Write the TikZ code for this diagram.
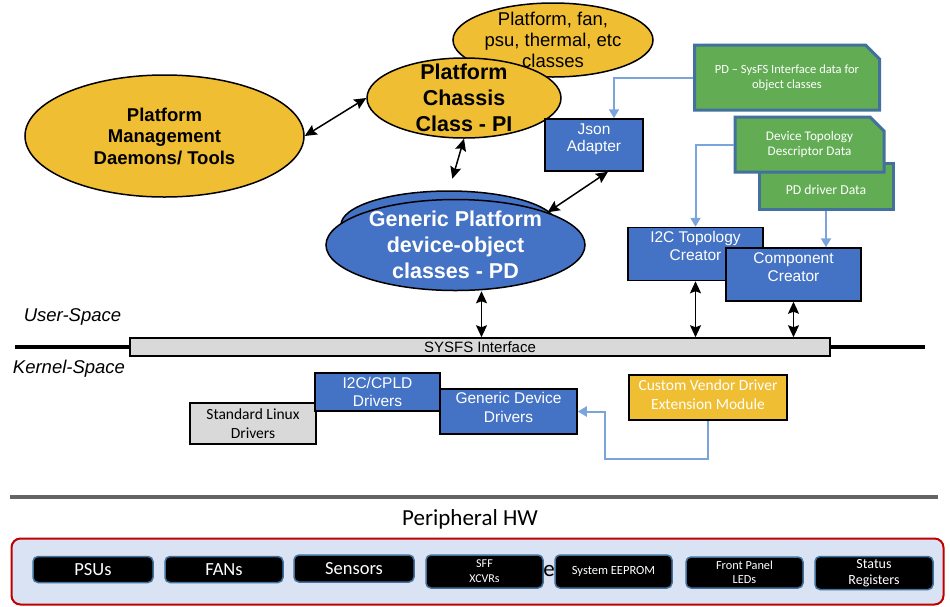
\documentclass[tikz,border=0pt]{standalone}
\usepackage{fontspec}
\setmainfont{Liberation Sans}
\newfontfamily\calibri{Carlito}
\usetikzlibrary{shapes.geometric,shapes.misc,arrows.meta}
\definecolor{pdgold}{RGB}{240,190,50}
\definecolor{pdblue}{RGB}{68,114,196}
\definecolor{docgreen}{RGB}{98,172,84}
\definecolor{docedge}{RGB}{65,113,156}
\definecolor{linkblue}{RGB}{124,164,220}
\definecolor{barfill}{RGB}{217,217,217}
\definecolor{hwfill}{RGB}{218,227,243}
\definecolor{hwedge}{RGB}{192,0,0}
\definecolor{rulegray}{RGB}{100,100,100}
\tikzset{goldelli/.style={ellipse, draw, line width=1.5pt, fill=pdgold, inner sep=0pt},
  blueelli/.style={ellipse, draw, line width=1.5pt, fill=pdblue, inner sep=0pt},
  etext/.style={align=center, font=\bfseries\fontsize{21.5}{26}\selectfont},
  bluebox/.style={draw, line width=1.5pt, fill=pdblue, inner sep=0pt},
  btext/.style={text=white, align=center, font=\fontsize{15.5}{18}\selectfont},
  graybox/.style={draw, line width=1.5pt, fill=barfill, inner sep=0pt, align=center},
  docbox/.style={chamfered rectangle, chamfered rectangle corners=north east, chamfered rectangle xsep=7pt, chamfered rectangle ysep=7pt, draw=docedge, line width=3pt, fill=docgreen, text=white, align=center, inner sep=0pt},
  hwbox/.style={rounded corners=5pt, draw=docedge, line width=1.5pt, fill=black, text=white, align=center, inner sep=0pt, font=\calibri\fontsize{12.5}{15}\selectfont},
  link/.style={draw=linkblue, line width=2pt, -{Triangle[length=9pt,width=10pt]}},
  dbl/.style={line width=1.5pt, {Stealth[length=12pt,width=11pt,inset=2pt]}-{Stealth[length=12pt,width=11pt,inset=2pt]}}}

\begin{document}
\begin{tikzpicture}[x=1pt,y=-1pt]
    \useasboundingbox (0,0) rectangle (950,606);
    \node[goldelli, minimum width=279pt, minimum height=122pt, label={[etext, font=\bfseries\fontsize{18.5}{21.5}\selectfont]center:Platform\\Management\\Daemons/ Tools}] (mgmt) at (164.5,136) {};
    \node[goldelli, minimum width=200pt, minimum height=74pt, label={[align=center, font=\fontsize{18.5}{21}\selectfont]center:Platform, fan,\\psu, thermal, etc\\classes}] (classes) at (553,40) {};
    \node[goldelli, minimum width=194pt, minimum height=80pt, label={[etext]center:Platform\\Chassis\\Class - PI}] (chassis) at (464,98) {};
    \node[bluebox, minimum width=98pt, minimum height=52pt, label={[btext, yshift=6pt, font=\fontsize{15.5}{17}\selectfont]center:Json\\Adapter}] (json) at (594,145) {};
    \node[blueelli, minimum width=216pt, minimum height=68pt] (gpback) at (449,225) {};
    \node[blueelli, minimum width=259pt, minimum height=91pt, label={[etext, text=white]center:Generic Platform\\device-object\\classes - PD}] (gp) at (455.5,245) {};

    \node[docbox, minimum width=185pt, minimum height=65pt, font=\calibri\fontsize{12.5}{15}\selectfont] (sysfsdoc) at (787,77.5) {PD – SysFS Interface data for\\object classes};
    \node[docbox, minimum width=134pt, minimum height=46pt, label={[text=white, yshift=-4pt, font=\calibri\fontsize{13.7}{16}\selectfont]center:PD driver Data}] (drvdoc) at (826,186) {};
    \node[docbox, minimum width=149pt, minimum height=55pt, font=\calibri\fontsize{13.2}{15}\selectfont] (topodoc) at (809.5,144.5) {Device Topology\\Descriptor Data};

    \node[bluebox, minimum width=135pt, minimum height=53pt, label={[btext, yshift=8pt]center:I2C Topology\\Creator}] (i2ctopo) at (695.5,254) {};
    \node[bluebox, minimum width=135pt, minimum height=53pt, label={[btext, yshift=7.5pt]center:Component\\Creator}] (compcr) at (793.5,274.5) {};

    \coordinate (kleft) at (15,347);
    \coordinate (kright) at (925,347);
    \node[graybox, minimum width=700pt, minimum height=18pt, font=\fontsize{15}{17}\selectfont] (sysfs) at (480,347) {SYSFS Interface};
    \draw[line width=4pt] (kleft) -- (sysfs.west) (sysfs.east) -- (kright);
    \node[font=\itshape\fontsize{18.5}{20}\selectfont] (userlbl) at (72.5,317) {User-Space};
    \node[font=\itshape\fontsize{18.5}{20}\selectfont] (kernlbl) at (69,369) {Kernel-Space};

    \node[graybox, minimum width=126pt, minimum height=41pt, font=\calibri\fontsize{15.5}{19}\selectfont] (stdlinux) at (253,423.5) {Standard Linux\\Drivers};
    \node[bluebox, minimum width=125pt, minimum height=38pt, btext, font=\fontsize{15.5}{18.5}\selectfont] (i2ccpld) at (377.5,392) {I2C/CPLD\\Drivers};
    \node[bluebox, minimum width=137pt, minimum height=45pt, label={[btext, yshift=4pt, font=\fontsize{15.5}{18.5}\selectfont]center:Generic Device\\Drivers}] (gendev) at (508.5,411.5) {};
    \node[draw, line width=1.5pt, fill=pdgold, minimum width=158pt, minimum height=45pt, inner sep=0pt, label={[btext, yshift=3pt, font=\calibri\fontsize{15.5}{19}\selectfont]center:Custom Vendor Driver\\Extension Module}] (custom) at (708,397.5) {};

    \draw[rulegray, line width=4pt] (10,497) -- (938,497);
    \node[font=\calibri\fontsize{23}{26}\selectfont] (hwtitle) at (470,519) {Peripheral HW};
    \node[draw=hwedge, line width=2pt, fill=hwfill, rounded corners=9pt, minimum width=932pt, minimum height=66pt] (hwframe) at (477.5,571.5) {};
    \node[font=\calibri\fontsize{23}{26}\selectfont] (hwhidden) at (549,571) {e};
    \node[hwbox, minimum width=120pt, minimum height=26pt, font=\calibri\fontsize{18.5}{20}\selectfont] (psu) at (93,569.5) {PSUs};
    \node[hwbox, minimum width=118pt, minimum height=26pt, font=\calibri\fontsize{18.5}{20}\selectfont] (fan) at (224,569.5) {FANs};
    \node[hwbox, minimum width=120pt, minimum height=27pt, font=\calibri\fontsize{18.5}{20}\selectfont] (sensors) at (354,568.5) {Sensors};
    \node[hwbox, minimum width=117pt, minimum height=33pt, font=\calibri\fontsize{12}{15}\selectfont] (sff) at (484.5,571.5) {SFF\\XCVRs};
    \node[hwbox, minimum width=117pt, minimum height=33pt] (eeprom) at (613.5,571.5) {System EEPROM};
    \node[hwbox, minimum width=117pt, minimum height=31pt, font=\calibri\fontsize{12.3}{14.5}\selectfont] (leds) at (744.5,572.5) {Front Panel\\LEDs};
    \node[hwbox, minimum width=118pt, minimum height=33pt, font=\calibri\fontsize{14}{16}\selectfont] (status) at (874,573) {Status\\Registers};

    \draw[link] (sysfsdoc.west) -| ([xshift=20pt]json.north);
    \draw[link] (topodoc.west) -| (i2ctopo.north);
    \draw[link] (drvdoc.south) -- (drvdoc.south |- compcr.north);
    \draw[link] (custom.south) -- ++(0,38) -| ([xshift=27pt]gendev.east) -- (gendev.east);

    \draw[dbl] (mgmt.east) -- (chassis.west);
    \draw[dbl, shorten >=12pt] (chassis.south) -- (gpback.north);
    \draw[dbl] ([xshift=14pt]json.south) -- (gp.north east);
    \draw[dbl] ([xshift=26pt]gp.south) -- ([xshift=26pt]gp.south |- sysfs.north);
    \draw[dbl] (i2ctopo.south) -- (i2ctopo.south |- sysfs.north);
    \draw[dbl] (compcr.south) -- (compcr.south |- sysfs.north);
\end{tikzpicture}
\end{document}
